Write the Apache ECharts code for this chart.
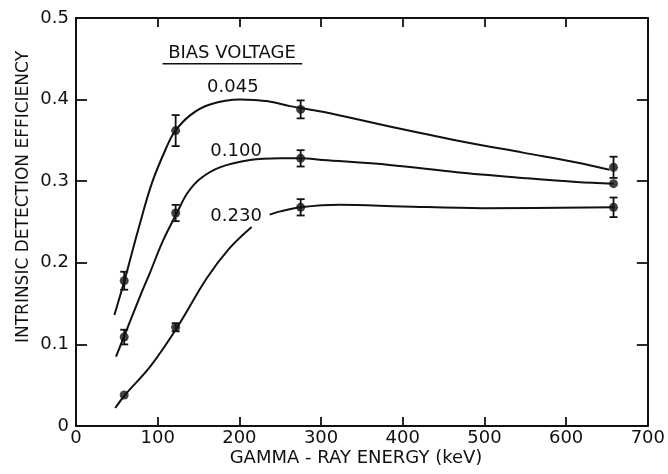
<!DOCTYPE html>
<html>
<head>
<meta charset="utf-8">
<script src="https://cdn.jsdelivr.net/npm/echarts@6/dist/echarts.min.js"></script>
<style>
html,body{margin:0;padding:0;background:#fff;}
#main{width:668px;height:474px;}
</style>
</head>
<body>
<div id="main"></div>
<script>
// ---- data ----
const energyKeV = [59, 122, 275, 658];
const eff045 = [0.178, 0.362, 0.388, 0.317];
const err045 = [0.011, 0.019, 0.011, 0.013];
const eff100 = [0.109, 0.261, 0.328, 0.297];
const err100 = [0.009, 0.010, 0.010, 0];
const eff230 = [0.038, 0.121, 0.268, 0.268];
const err230 = [0, 0.005, 0.010, 0.012];

// smooth fitted curves
const fit045X = [47, 59, 76, 93, 111, 121, 140, 164, 201, 235, 262, 302, 384, 466, 547, 613, 653];
const fit045Y = [0.136, 0.177, 0.240, 0.298, 0.342, 0.361, 0.381, 0.394, 0.400, 0.398, 0.392, 0.385, 0.367, 0.350, 0.335, 0.323, 0.314];
const fit100X = [49, 59, 78, 91, 106, 124, 136, 152, 176, 213, 250, 275, 302, 384, 466, 547, 613, 658];
const fit100Y = [0.085, 0.110, 0.158, 0.189, 0.226, 0.262, 0.285, 0.303, 0.317, 0.326, 0.328, 0.328, 0.326, 0.320, 0.311, 0.304, 0.299, 0.297];
const fit230X = [48, 60, 91, 124, 160, 188, 215, null, 237, 250, 275, 323, 400, 498, 658];
const fit230Y = [0.022, 0.038, 0.073, 0.121, 0.181, 0.218, 0.244, null, 0.259, 0.263, 0.268, 0.271, 0.269, 0.267, 0.268];

const xTicks = [0, 100, 200, 300, 400, 500, 600, 700];
const yTicks = [0, 0.1, 0.2, 0.3, 0.4, 0.5];
const curveLabels = ['0.045', '0.100', '0.230'];
const legendTitle = 'BIAS VOLTAGE';
const xTitle = 'GAMMA - RAY ENERGY (keV)';
const yTitle = 'INTRINSIC DETECTION EFFICIENCY';

// ---- build ----
const FONT = 'DejaVu Sans';
const INK = '#111';
const pairs = (xs, ys) => xs.map((x, i) => (x === null ? ['-', '-'] : [x, ys[i]]));
const pts = (ys) => energyKeV.map((x, i) => [x, ys[i]]);
const errs = (ys, es) => energyKeV.map((x, i) => [x, ys[i], es[i]]);

const chart = echarts.init(document.getElementById('main'), null, {renderer: 'canvas'});

function fitSeries(xs, ys) {
  return {
    type: 'line', data: pairs(xs, ys), smooth: 0.35,
    showSymbol: false, symbol: 'none', connectNulls: false, silent: true,
    lineStyle: {color: INK, width: 2}, z: 3
  };
}
function ptSeries(ys) {
  return {type: 'scatter', data: pts(ys), symbol: 'circle', symbolSize: 9,
    itemStyle: {color: INK}, silent: true, z: 5};
}
function errSeries(ys, es) {
  return {
    type: 'custom', data: errs(ys, es), silent: true, z: 4,
    renderItem: function (params, api) {
      const e = api.value(2);
      if (!e) return null;
      const x = api.value(0), y = api.value(1);
      const top = api.coord([x, y + e]);
      const bot = api.coord([x, y - e]);
      const w = 4;
      const st = {stroke: INK, lineWidth: 1.8};
      return {type: 'group', children: [
        {type: 'line', shape: {x1: top[0], y1: top[1], x2: bot[0], y2: bot[1]}, style: st},
        {type: 'line', shape: {x1: top[0] - w, y1: top[1], x2: top[0] + w, y2: top[1]}, style: st},
        {type: 'line', shape: {x1: bot[0] - w, y1: bot[1], x2: bot[0] + w, y2: bot[1]}, style: st}
      ]};
    }
  };
}

const axisLine = {show: true, onZero: false, lineStyle: {color: INK, width: 2}};
const tick = (len) => ({show: true, inside: true, length: len, lineStyle: {color: INK, width: 1.8}});
const xMin = xTicks[0], xMax = xTicks[xTicks.length - 1], xInt = xTicks[1] - xTicks[0];
const yMin = yTicks[0], yMax = yTicks[yTicks.length - 1], yInt = 0.1;

chart.setOption({
  backgroundColor: '#fff',
  animation: false,
  grid: {left: 76, right: 20, top: 18, bottom: 48},
  xAxis: [{
    type: 'value', min: xMin, max: xMax, interval: xInt,
    axisLine: axisLine, axisTick: tick(9),
    axisLabel: {fontFamily: FONT, fontSize: 18, color: INK, margin: 3},
    splitLine: {show: false}
  }, {
    type: 'value', position: 'top', min: xMin, max: xMax, interval: xInt,
    axisLine: axisLine, axisTick: tick(9),
    axisLabel: {show: false}, splitLine: {show: false}
  }],
  yAxis: [{
    type: 'value', min: yMin, max: yMax, interval: yInt,
    axisLine: axisLine, axisTick: tick(11),
    axisLabel: {fontFamily: FONT, fontSize: 18, color: INK, margin: 7,
      formatter: v => (v === 0 ? '0' : v.toFixed(1))},
    splitLine: {show: false}
  }, {
    type: 'value', position: 'right', min: yMin, max: yMax, interval: yInt,
    axisLine: axisLine, axisTick: tick(11),
    axisLabel: {show: false}, splitLine: {show: false}
  }],
  series: [
    fitSeries(fit045X, fit045Y), fitSeries(fit100X, fit100Y), fitSeries(fit230X, fit230Y),
    errSeries(eff045, err045), errSeries(eff100, err100), errSeries(eff230, err230),
    ptSeries(eff045), ptSeries(eff100), ptSeries(eff230)
  ]
});

// annotation texts placed in data coordinates
function px(x, y) { return chart.convertToPixel({xAxisIndex: 0, yAxisIndex: 0}, [x, y]); }
const tStyle = (txt, size) => ({text: txt, fontFamily: FONT, fontSize: size || 18, fill: INK, textAlign: 'center', textVerticalAlign: 'middle'});
const lab045 = px(192, 0.415), lab100 = px(196, 0.336), lab230 = px(196, 0.257);
const legPos = px(191, 0.457);
const ulA = px(106, 0.444), ulB = px(277, 0.444);
chart.setOption({
  graphic: [
    {type: 'text', x: lab045[0], y: lab045[1], style: tStyle(curveLabels[0]), z: 10},
    {type: 'text', x: lab100[0], y: lab100[1], style: tStyle(curveLabels[1]), z: 10},
    {type: 'text', x: lab230[0], y: lab230[1], style: tStyle(curveLabels[2]), z: 10},
    {type: 'text', x: legPos[0], y: legPos[1], style: tStyle(legendTitle), z: 10},
    {type: 'line', shape: {x1: ulA[0], y1: ulA[1], x2: ulB[0], y2: ulB[1]}, style: {stroke: INK, lineWidth: 1.6}, z: 10},
    {type: 'text', x: 356, y: 458, style: tStyle(xTitle), z: 10},
    {type: 'text', x: 24, y: 197, rotation: Math.PI / 2, style: tStyle(yTitle, 17), z: 10}
  ]
});
</script>
</body>
</html>
